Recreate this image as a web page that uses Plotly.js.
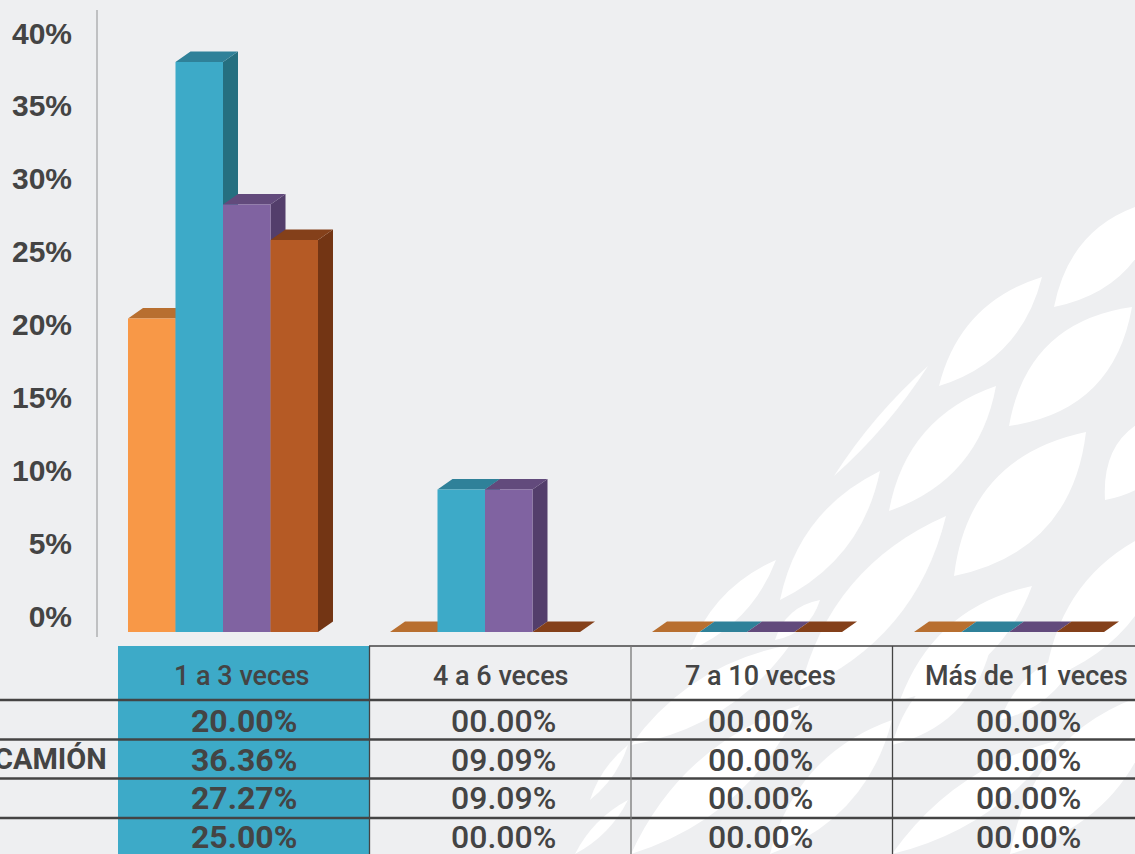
<!DOCTYPE html>
<html>
<head>
<meta charset="utf-8">
<script src="https://cdn.plot.ly/plotly-3.0.1.min.js"></script>
<style>html,body{margin:0;padding:0;background:#eeeff1;overflow:hidden}#chart{width:1135px;height:854px}</style>
</head>
<body>
<div id="chart"></div>
<script>
// ---- Data ----
const categories = ['1 a 3 veces', '4 a 6 veces', '7 a 10 veces', 'Más de 11 veces'];
const seriesA = [20.00, 0, 0, 0];
const seriesCamion = [36.36, 9.09, 0, 0];
const seriesC = [27.27, 9.09, 0, 0];
const seriesD = [25.00, 0, 0, 0];
const yTickValues = [0, 5, 10, 15, 20, 25, 30, 35, 40];
const rowLabels = ['', 'CAMIÓN', '', ''];

// ---- Styling ----
const W = 1135, H = 854;
const series = [seriesA, seriesCamion, seriesC, seriesD];
const frontColors = ['#f89847', '#3daac8', '#8063a1', '#b55a25'];
const topColors = ['#b86f30', '#2f8199', '#624a7c', '#84401a'];
const sideColors = ['#a05f28', '#256f80', '#533e6b', '#733514'];
const textColor = '#444444';
const px = x => x / W;
const py = y => 1 - y / H;

// axis geometry
const plotL = 98, plotT = 10, plotB = 637;
const groupStep = 262, groupCenter0 = 223, groupW = 190;
const xRange = [(plotL - groupCenter0) / groupStep, (W - groupCenter0) / groupStep];
const barScale = 15.68, barBase = 632;          // px per unit, front plane
const labelScale = 14.575, labelZero = 616;     // px per unit, printed scale
const barRange = [(barBase - plotB) / barScale, (barBase - plotT) / barScale];
const labelRange = [(labelZero - plotB) / labelScale, (labelZero - plotT) / labelScale];
const groupWidth = groupW / groupStep, barW = groupWidth / 4;
const depthX = 15 / groupStep, depthY = 10.5 / barScale;

// the main subplot carries the printed percentage axis
const traces = [{type: 'scatter', mode: 'markers', x: [0], y: [0], marker: {size: 1, opacity: 0}, hoverinfo: 'skip', showlegend: false}];
// depth faces (top + side) derived from the values
series.forEach((vals, s) => {
  const topX = [], topY = [], sideX = [], sideY = [];
  vals.forEach((v, i) => {
    const x0 = i - groupWidth / 2 + s * barW, x1 = x0 + barW;
    topX.push(x0, x1, x1 + depthX, x0 + depthX, x0, null);
    topY.push(v, v, v + depthY, v + depthY, v, null);
    if (v > 0) {
      sideX.push(x1, x1 + depthX, x1 + depthX, x1, x1, null);
      sideY.push(0, depthY, v + depthY, v, 0, null);
    }
  });
  if (sideX.length) traces.push({type: 'scatter', mode: 'lines', x: sideX, y: sideY, yaxis: 'y2', fill: 'toself',
    fillcolor: sideColors[s], line: {width: 0}, hoverinfo: 'skip', showlegend: false});
  traces.push({type: 'scatter', mode: 'lines', x: topX, y: topY, yaxis: 'y2', fill: 'toself',
    fillcolor: topColors[s], line: {width: 0}, hoverinfo: 'skip', showlegend: false});
});
// front faces
series.forEach((vals, s) => {
  traces.push({type: 'bar', x: categories.map((_, i) => i), y: vals, yaxis: 'y3',
    marker: {color: frontColors[s], line: {width: 0}}, showlegend: false});
});

// ---- Background leaves (decoration, page pixels) ----
const leaves = [
  [939,386,1042,277,42],[1054,307,1160,200,50],[1009,426,1132,307,62],[889,511,996,386,48],
  [834,476,928,366,10],[780,600,880,471,40],[954,576,1086,432,70],[1105,500,1175,410,50],
  [800,690,946,516,56],[690,650,776,560,26],[775,640,820,600,18],[900,700,1032,586,48],
  [1045,680,1170,525,60],
  [631,745,790,645,38],[631,854,800,705,50],[770,854,892,720,48],[892,745,990,650,40],
  [892,854,1060,740,38],[1010,854,1160,690,70],[1000,720,1080,650,28],
  [590,800,628,745,10],[575,854,628,800,12]
];
const leafPath = ([x1,y1,x2,y2,b]) => {
  const mx = (x1+x2)/2, my = (y1+y2)/2, dx = x2-x1, dy = y2-y1, L = Math.hypot(dx,dy);
  const nx = -dy/L*b, ny = dx/L*b;
  const P = (x,y) => px(x).toFixed(5) + ' ' + py(y).toFixed(5);
  return 'M ' + P(x1,y1) + ' Q ' + P(mx+nx,my+ny) + ' ' + P(x2,y2) + ' Q ' + P(mx-nx,my-ny) + ' ' + P(x1,y1) + ' Z';
};
const shapes = leaves.map(l => ({type: 'path', xref: 'paper', yref: 'paper', layer: 'below', path: leafPath(l),
  fillcolor: '#ffffff', line: {width: 0}}));

// ---- Table ----
const pRect = (x0, y0, x1, y1, fill) => ({type: 'rect', xref: 'paper', yref: 'paper', layer: 'below',
  x0: px(x0), x1: px(x1), y0: py(y0), y1: py(y1), fillcolor: fill, line: {width: 0}});
const pLine = (x0, y0, x1, y1, color, width) => ({type: 'line', xref: 'paper', yref: 'paper', layer: 'below',
  x0: px(x0), x1: px(x1), y0: py(y0), y1: py(y1), line: {color: color, width: width}});
shapes.push(pRect(118, 646, 369, 854, '#3daac8'));
[700, 739.5, 778.5, 818].forEach(y => shapes.push(pLine(0, y, W, y, '#444444', 2.5)));
shapes.push(pLine(369, 646, W, 646, '#444444', 1.3));
[[369.5, '#444444'], [631, '#777777'], [892.5, '#444444']].forEach(([x, c]) => shapes.push(pLine(x, 646, x, H, c, 1.3)));

const colCenters = [243.5, 503.5, 760, 1028];
const headerCenters = [241.5, 501, 760.5, 1026.5];
const rowCenters = [721, 760, 798, 837];
const fmt = v => (v < 10 ? '0' : '') + v.toFixed(2) + '%';
const ann = (x, y, text, size, weight, anchor) => ({xref: 'paper', yref: 'paper', x: px(x), y: py(y), text: text,
  showarrow: false, xanchor: anchor || 'center', yanchor: 'middle', borderpad: 0,
  font: {family: 'Roboto, sans-serif', size: size, color: textColor, weight: weight}});
const annotations = [];
categories.forEach((c, i) => annotations.push(ann(headerCenters[i], 675.5, c, 27, 500)));
series.forEach((vals, r) => {
  vals.forEach((v, i) => annotations.push(ann(colCenters[i], rowCenters[r], fmt(v), 32, i === 0 ? 700 : 500)));
  if (rowLabels[r]) annotations.push(ann(107.5, rowCenters[r] - 1, rowLabels[r], 29, 700, 'right'));
});

const layout = {
  width: W, height: H, margin: {l: 0, r: 0, t: 0, b: 0}, autosize: false,
  paper_bgcolor: '#eeeff1', plot_bgcolor: 'rgba(0,0,0,0)',
  barmode: 'group', bargap: 1 - groupWidth, bargroupgap: 0,
  showlegend: false,
  xaxis: {domain: [px(plotL), 1], range: xRange, visible: false, fixedrange: true},
  yaxis: {domain: [py(plotB), py(plotT)], range: labelRange, tickvals: yTickValues,
    ticktext: yTickValues.map(v => v + '%'), showgrid: false, zeroline: false,
    showline: true, linecolor: '#bfc0c2', linewidth: 2, ticks: 'outside', ticklen: 18, tickcolor: 'rgba(0,0,0,0)',
    tickfont: {family: 'Liberation Sans, Arial, sans-serif', size: 30, color: textColor, weight: 700}, fixedrange: true},
  yaxis2: {domain: [py(plotB), py(plotT)], range: barRange, overlaying: 'y', visible: false, fixedrange: true},
  yaxis3: {domain: [py(plotB), py(plotT)], range: barRange, overlaying: 'y', visible: false, fixedrange: true},
  shapes: shapes, annotations: annotations
};
Plotly.newPlot('chart', traces, layout, {displayModeBar: false, staticPlot: true});
</script>
</body>
</html>
